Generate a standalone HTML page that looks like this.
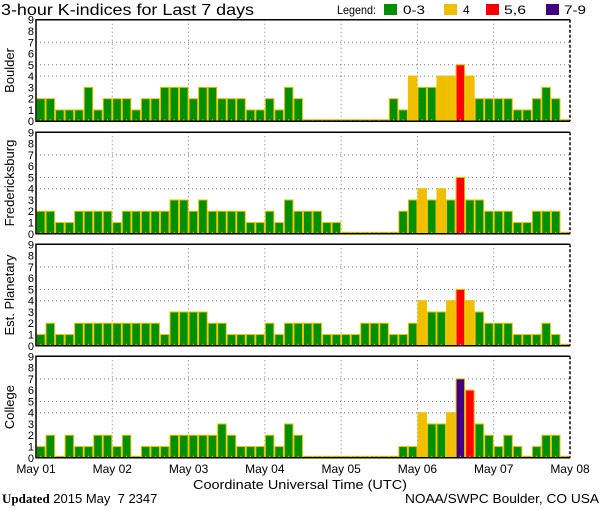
<!DOCTYPE html>
<html><head><meta charset="utf-8"><style>
html,body{margin:0;padding:0;background:#fff;}
svg{display:block;font-family:"Liberation Sans",sans-serif;}
text{white-space:pre;}
</style></head><body>
<svg id="chart" width="600" height="510" viewBox="0 0 600 510" xmlns="http://www.w3.org/2000/svg">
<text x="1" y="15" font-size="16" textLength="253" lengthAdjust="spacingAndGlyphs">3-hour K-indices for Last 7 days</text>
<g font-size="12">
<text x="337" y="14" textLength="39" lengthAdjust="spacingAndGlyphs">Legend:</text>
<rect x="384" y="4" width="13" height="11" fill="#009000"/>
<text x="403" y="14" textLength="22" lengthAdjust="spacingAndGlyphs">0-3</text>
<rect x="444" y="4" width="13" height="11" fill="#f0c000"/>
<text x="463" y="14">4</text>
<rect x="486" y="4" width="13" height="11" fill="#ff0000"/>
<text x="504" y="14" textLength="22" lengthAdjust="spacingAndGlyphs">5,6</text>
<rect x="546" y="4" width="13" height="11" fill="#400080"/>
<text x="564" y="14" textLength="22" lengthAdjust="spacingAndGlyphs">7-9</text>
</g>
<g id="panels"></g>
<g id="xlabels" font-size="12"></g>
<text x="300" y="489" font-size="13" text-anchor="middle" textLength="214" lengthAdjust="spacingAndGlyphs">Coordinate Universal Time (UTC)</text>
<text x="2" y="503" font-size="13"><tspan font-family="Liberation Serif, serif" font-weight="bold">Updated</tspan> 2015 May  7 2347</text>
<text x="599" y="503" font-size="13" text-anchor="end" textLength="194" lengthAdjust="spacingAndGlyphs">NOAA/SWPC Boulder, CO USA</text>
</svg>
<script>
const stations = ["Boulder", "Fredericksburg", "Est. Planetary", "College"];
const boulder = [2,2,1,1,1,3,1,2, 2,2,1,2,2,3,3,3, 2,3,3,2,2,2,1,1, 2,1,3,2,0,0,0,0, 0,0,0,0,0,2,1,4, 3,3,4,4,5,4,2,2, 2,2,1,1,2,3,2,0];
const fredericksburg = [2,2,1,1,2,2,2,2, 1,2,2,2,2,2,3,3, 2,3,2,2,2,2,1,1, 2,1,3,2,2,2,1,1, 0,0,0,0,0,0,2,3, 4,3,4,3,5,3,3,2, 2,2,1,1,2,2,2,0];
const planetary = [1,2,1,1,2,2,2,2, 2,2,2,2,2,1,3,3, 3,3,2,2,1,1,1,1, 2,1,2,2,2,2,1,1, 1,1,2,2,2,1,1,2, 4,3,3,4,5,4,3,2, 2,2,1,1,1,2,1,0];
const college = [1,2,0,2,1,1,2,2, 1,2,0,1,1,1,2,2, 2,2,2,3,2,1,1,1, 2,1,3,2,0,0,0,0, 0,0,0,0,0,0,1,1, 4,3,3,4,7,6,3,2, 1,2,1,0,1,2,2,0];
const dayLabels = ["May 01","May 02","May 03","May 04","May 05","May 06","May 07","May 08"];
const yTicks = [0,1,2,3,4,5,6,7,8,9];
const gridLevels = [4,5,7];

const series = [boulder, fredericksburg, planetary, college];
const NS = "http://www.w3.org/2000/svg";
const X0 = 36, X1 = 570, PH = 101.5, NB = 56;
const panelTops = [19.7, 132.3, 244.3, 356.3];
const bw = (X1 - X0) / NB;
function xScale(i){ return X0 + i * bw; }
function colorFor(v){ return v <= 3 ? "#009000" : v === 4 ? "#f0c000" : v <= 6 ? "#ff0000" : "#400080"; }
function mk(tag, attrs, parent){ const e = document.createElementNS(NS, tag); for (const k in attrs) e.setAttribute(k, attrs[k]); parent.appendChild(e); return e; }
const root = document.getElementById("panels");
series.forEach((data, p) => {
  const top = panelTops[p], bot = top + PH;
  const yScale = v => bot - v * (PH / 9);
  const g = mk("g", {}, root);
  
  
  gridLevels.forEach(l => {
    const ln = mk("line", {x1: X0, x2: X1, y1: yScale(l), y2: yScale(l), stroke: "#777", "stroke-dasharray": "1,3"}, g);
    
    
  });
  for (let d = 1; d < 7; d++) {
    const x = xScale(d * 8);
    const ln = mk("line", {x1: x, x2: x, y1: top, y2: bot, stroke: "#777", "stroke-dasharray": "1,3"}, g);
    
    
  }
  data.forEach((v, i) => {
    const h = Math.max(v * (PH / 9), 1.5);
    const r = mk("rect", {x: xScale(i) + 0.5, y: bot - h, width: bw - 1, height: h, fill: colorFor(v), stroke: "#f0c000", "stroke-width": 1}, g);
    
    
    const t = mk("line", {x1: xScale(i) + bw/2, x2: xScale(i) + bw/2, y1: bot, y2: bot - 2, stroke: "#f0c000", "stroke-width": 1}, g);
    
    
  });
  const f = mk("path", {d: `M${X1},${top} L${X0},${top} L${X0},${bot} L${X1},${bot}`, fill: "none", stroke: "#000", "stroke-width": 1.5}, g);
  
  
  const rf = mk("line", {x1: X1, x2: X1, y1: top, y2: bot, stroke: "#000", "stroke-width": 1.5, "stroke-dasharray": "3,2"}, g);
  
  
  yTicks.forEach(t => {
    const tx = mk("text", {x: 34, y: yScale(t) + 4, "font-size": 11, "text-anchor": "end"}, g);
    tx.textContent = t;
    
    
  });
  const cy = top + PH / 2;
  const title = mk("text", {x: 14, y: cy, "font-size": 13, "text-anchor": "middle", transform: `rotate(-90 14 ${cy})`}, g);
  title.textContent = stations[p];
  
  
});
const xl = document.getElementById("xlabels");
dayLabels.forEach((lab, d) => {
  const t = mk("text", {x: xScale(d * 8), y: 473, "text-anchor": "middle"}, xl);
  t.textContent = lab;
  
  
});
</script>
</body></html>
